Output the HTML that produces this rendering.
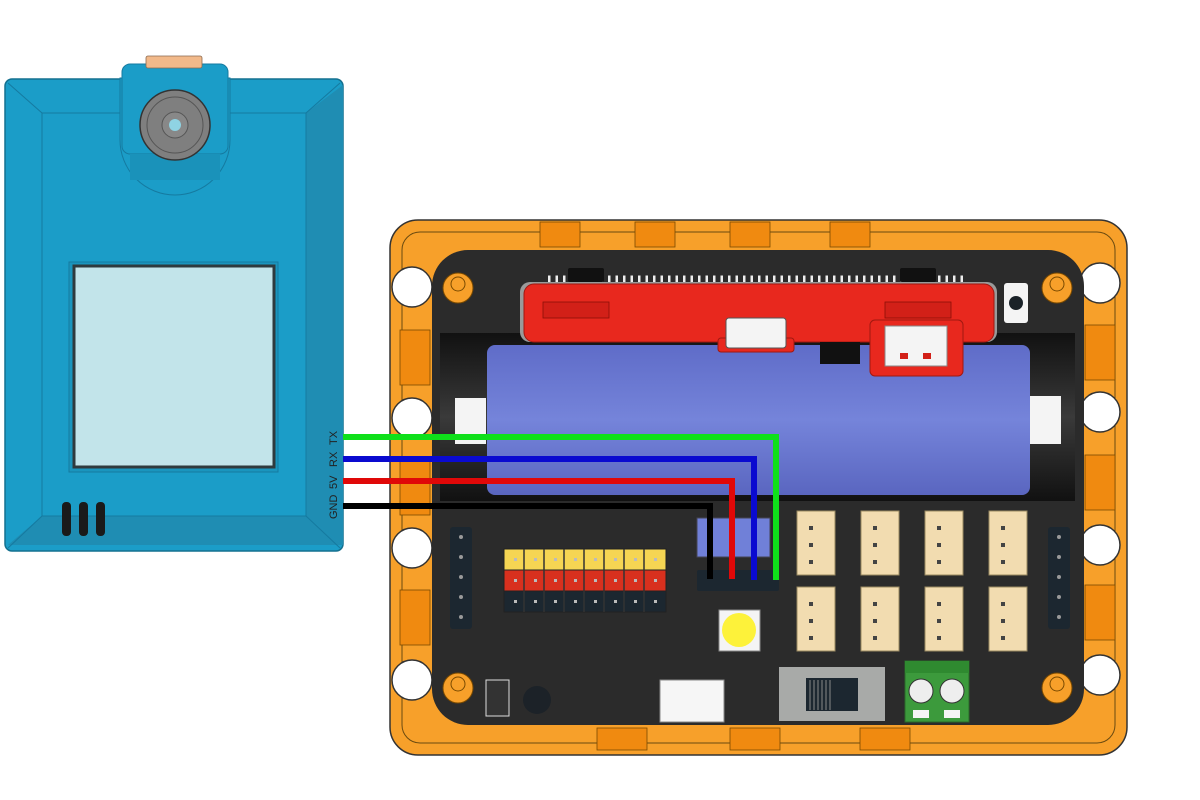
<!DOCTYPE html>
<html><head><meta charset="utf-8"><style>
html,body{margin:0;padding:0;background:#fff;width:1200px;height:800px;overflow:hidden}
svg{display:block}
text{font-family:"Liberation Sans",sans-serif}
</style></head><body>
<svg width="1200" height="800" viewBox="0 0 1200 800" xmlns="http://www.w3.org/2000/svg">
<defs>
<linearGradient id="bat" x1="0" y1="0" x2="0" y2="1">
<stop offset="0" stop-color="#5f6cc8"/><stop offset="0.5" stop-color="#7584da"/><stop offset="1" stop-color="#5a66c0"/></linearGradient>
<linearGradient id="hold" x1="0" y1="0" x2="0" y2="1">
<stop offset="0" stop-color="#111"/><stop offset="0.5" stop-color="#3a3a3a"/><stop offset="1" stop-color="#111"/></linearGradient>
</defs>

<!-- Camera module -->
<rect x="5" y="79" width="338" height="472" rx="7" fill="#1b9dc8" stroke="#14708f" stroke-width="1.5"/>
<polygon points="306,113 343,85 343,545 306,516" fill="#1f8db3"/>
<polygon points="42,516 306,516 343,545 8,545" fill="#1f8db3"/>
<rect x="42" y="113" width="264" height="403" fill="none" stroke="#157aa0" stroke-width="1"/>
<line x1="8" y1="83" x2="42" y2="113" stroke="#157aa0"/><line x1="340" y1="83" x2="306" y2="113" stroke="#157aa0"/>
<line x1="8" y1="548" x2="42" y2="516" stroke="#157aa0"/><line x1="340" y1="548" x2="306" y2="516" stroke="#157aa0"/>
<path d="M120,78 L120,140 A55,55 0 0 0 230,140 L230,78 Z" fill="#1b9dc8" stroke="#157aa0"/>
<rect x="122" y="64" width="106" height="90" rx="8" fill="#1b9dc8" stroke="#157aa0"/>
<rect x="130" y="154" width="90" height="26" fill="#1a92ba"/>
<rect x="146" y="56" width="56" height="12" rx="2" fill="#f2b98a" stroke="#8a6a50" stroke-width="0.8"/>
<circle cx="175" cy="125" r="35" fill="#7f7f7f" stroke="#333" stroke-width="1.5"/>
<circle cx="175" cy="125" r="28" fill="none" stroke="#555" stroke-width="1"/>
<circle cx="175" cy="125" r="13" fill="#888" stroke="#555"/>
<circle cx="175" cy="125" r="6" fill="#8fd3e3"/>
<rect x="69" y="262" width="209" height="210" fill="#1a95be" stroke="#157aa0"/>
<rect x="74" y="266" width="200" height="201" fill="#c2e4ea" stroke="#2f3a3e" stroke-width="3"/>
<rect x="62" y="502" width="9" height="34" rx="4" fill="#1a1a1a"/>
<rect x="79" y="502" width="9" height="34" rx="4" fill="#1a1a1a"/>
<rect x="96" y="502" width="9" height="34" rx="4" fill="#1a1a1a"/>
<g font-size="11" fill="#222">
<text transform="translate(337,445) rotate(-90)">TX</text>
<text transform="translate(337,467) rotate(-90)">RX</text>
<text transform="translate(337,489) rotate(-90)">5V</text>
<text transform="translate(337,519) rotate(-90)">GND</text>
</g>

<!-- Board frame -->
<rect x="390" y="220" width="737" height="535" rx="28" fill="#f7a02a" stroke="#333" stroke-width="1.5"/>
<rect x="402" y="232" width="713" height="511" rx="18" fill="none" stroke="#6a4a10" stroke-width="1"/>
<g fill="#fff" stroke="#333" stroke-width="1.5">
<circle cx="412" cy="287" r="20"/><circle cx="412" cy="418" r="20"/><circle cx="412" cy="548" r="20"/><circle cx="412" cy="680" r="20"/>
<circle cx="1100" cy="283" r="20"/><circle cx="1100" cy="412" r="20"/><circle cx="1100" cy="545" r="20"/><circle cx="1100" cy="675" r="20"/>
</g>
<g fill="#f08a10" stroke="#7a4a00" stroke-width="0.8">
<rect x="400" y="330" width="30" height="55"/><rect x="400" y="460" width="30" height="55"/><rect x="400" y="590" width="30" height="55"/>
<rect x="1085" y="325" width="30" height="55"/><rect x="1085" y="455" width="30" height="55"/><rect x="1085" y="585" width="30" height="55"/>
<rect x="540" y="222" width="40" height="25"/><rect x="635" y="222" width="40" height="25"/><rect x="730" y="222" width="40" height="25"/><rect x="830" y="222" width="40" height="25"/>
<rect x="597" y="728" width="50" height="22"/><rect x="730" y="728" width="50" height="22"/><rect x="860" y="728" width="50" height="22"/>
</g>
<!-- PCB -->
<rect x="432" y="250" width="652" height="475" rx="36" fill="#2b2b2b"/>
<g fill="#f7a02a" stroke="#7a4a00">
<circle cx="458" cy="288" r="15"/><circle cx="1057" cy="288" r="15"/><circle cx="458" cy="688" r="15"/><circle cx="1057" cy="688" r="15"/>
</g>
<g fill="none" stroke="#7a4a00"><circle cx="458" cy="284" r="7"/><circle cx="1057" cy="284" r="7"/><circle cx="458" cy="684" r="7"/><circle cx="1057" cy="684" r="7"/></g>
<!-- battery holder -->
<rect x="440" y="333" width="635" height="168" fill="url(#hold)"/>
<rect x="487" y="345" width="543" height="150" rx="8" fill="url(#bat)"/>
<rect x="455" y="398" width="31" height="46" fill="#f4f4f4"/>
<rect x="1030" y="396" width="31" height="48" fill="#f4f4f4"/>
<!-- top pins & red module -->
<g fill="#eee">
<rect x="545" y="270" width="425" height="10" fill="none"/>
</g>
<path d="M548,280 h420" stroke="#eee" stroke-width="9" stroke-dasharray="2.5,5"/>
<rect x="568" y="268" width="36" height="14" rx="2" fill="#111"/>
<rect x="900" y="268" width="36" height="14" rx="2" fill="#111"/>
<rect x="520" y="282" width="477" height="60" rx="10" fill="#9a9a9a"/>
<rect x="524" y="284" width="470" height="58" rx="10" fill="#e8281e" stroke="#a01810"/>
<rect x="543" y="302" width="66" height="16" fill="#d22018" stroke="#8a1008" stroke-width="0.8"/>
<rect x="885" y="302" width="66" height="16" fill="#d22018" stroke="#8a1008" stroke-width="0.8"/>
<rect x="718" y="338" width="76" height="14" rx="3" fill="#e8281e" stroke="#a01810"/>
<rect x="726" y="318" width="60" height="30" rx="3" fill="#f4f4f4" stroke="#555"/>
<rect x="820" y="342" width="40" height="22" fill="#111"/>
<rect x="870" y="320" width="93" height="56" rx="5" fill="#e8281e" stroke="#a01810"/>
<rect x="885" y="326" width="62" height="40" fill="#f4f4f4" stroke="#888"/>
<rect x="900" y="353" width="8" height="6" fill="#d22018"/><rect x="923" y="353" width="8" height="6" fill="#d22018"/>
<rect x="1004" y="283" width="24" height="40" rx="3" fill="#f4f4f4"/>
<circle cx="1016" cy="303" r="7" fill="#1a2228"/>
<!-- side headers -->
<g fill="#1c2730">
<rect x="450" y="527" width="22" height="102" rx="3"/><rect x="1048" y="527" width="22" height="102" rx="3"/>
</g>
<g fill="#999"><circle cx="461" cy="537" r="2"/><circle cx="461" cy="557" r="2"/><circle cx="461" cy="577" r="2"/><circle cx="461" cy="597" r="2"/><circle cx="461" cy="617" r="2"/>
<circle cx="1059" cy="537" r="2"/><circle cx="1059" cy="557" r="2"/><circle cx="1059" cy="577" r="2"/><circle cx="1059" cy="597" r="2"/><circle cx="1059" cy="617" r="2"/></g>
<!-- pin header 3x8 -->
<g stroke="#222" stroke-width="1">
<rect x="504" y="549" width="162" height="21" fill="#f5d553"/>
<rect x="504" y="570" width="162" height="21" fill="#d8301e"/>
<rect x="504" y="591" width="162" height="21" fill="#1c2730"/>
</g>
<path d="M524,549 v63 M544,549 v63 M564,549 v63 M584,549 v63 M604,549 v63 M624,549 v63 M644,549 v63" stroke="#333" stroke-width="1.5"/>
<path d="M514,559.5 h160 M514,580.5 h160 M514,601.5 h160" stroke="#bbb" stroke-width="3" stroke-dasharray="3,17"/>
<!-- blue header + 4pin -->
<rect x="697" y="518" width="73" height="39" fill="#7080d8" stroke="#445"/>
<rect x="697" y="570" width="82" height="21" rx="2" fill="#1c2730"/>
<!-- LED -->
<rect x="719" y="610" width="41" height="41" fill="#f4f4f4" stroke="#888"/>
<circle cx="739" cy="630" r="17" fill="#fdf23a"/>
<!-- JST -->
<g fill="#f2dcb0" stroke="#9a8a60" stroke-width="1">
<rect x="797" y="511" width="38" height="64"/><rect x="861" y="511" width="38" height="64"/><rect x="925" y="511" width="38" height="64"/><rect x="989" y="511" width="38" height="64"/>
<rect x="797" y="587" width="38" height="64"/><rect x="861" y="587" width="38" height="64"/><rect x="925" y="587" width="38" height="64"/><rect x="989" y="587" width="38" height="64"/>
</g>
<path d="M811,526 v45 M875,526 v45 M939,526 v45 M1003,526 v45 M811,602 v45 M875,602 v45 M939,602 v45 M1003,602 v45" stroke="#444" stroke-width="4" stroke-dasharray="4,13"/>
<!-- bottom parts -->
<rect x="486" y="680" width="23" height="36" fill="#333" stroke="#ddd" stroke-width="1"/>
<circle cx="537" cy="700" r="14" fill="#1c2228"/>
<rect x="660" y="680" width="64" height="42" fill="#f6f6f6" stroke="#888"/>
<rect x="779" y="667" width="106" height="54" fill="#a8aaa8"/>
<rect x="806" y="678" width="52" height="33" fill="#1c2730"/>
<path d="M810,680 v30 M814,680 v30 M818,680 v30 M822,680 v30 M826,680 v30 M830,680 v30" stroke="#888" stroke-width="1"/>
<rect x="905" y="661" width="64" height="61" fill="#3c9a3c" stroke="#2a6a2a"/>
<rect x="905" y="661" width="64" height="12" fill="#2f8a30"/>
<circle cx="921" cy="691" r="12" fill="#eee" stroke="#333"/><circle cx="952" cy="691" r="12" fill="#eee" stroke="#333"/>
<rect x="913" y="710" width="16" height="8" fill="#f4f4f4"/><rect x="944" y="710" width="16" height="8" fill="#f4f4f4"/>

<!-- wires -->
<g fill="none" stroke-width="6" stroke-linejoin="miter">
<polyline points="343,437 776,437 776,580" stroke="#0fe01a"/>
<polyline points="343,459 754,459 754,580" stroke="#0a0ad0"/>
<polyline points="343,481 732,481 732,579" stroke="#e00808"/>
<polyline points="343,506 710,506 710,579" stroke="#000"/>
</g>
</svg>
</body></html>
